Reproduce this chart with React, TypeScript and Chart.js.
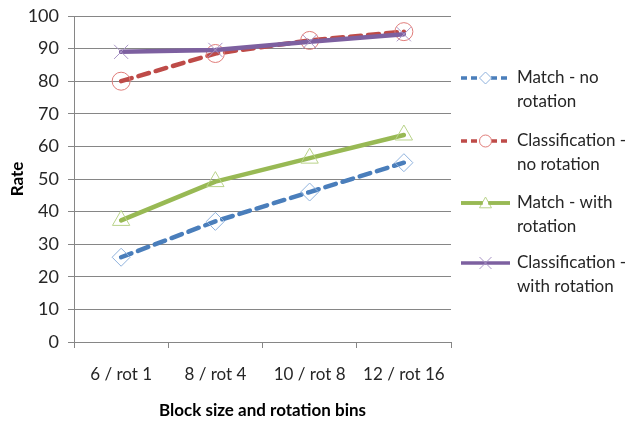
import React, { useEffect, useRef } from "react";
import { Chart, registerables } from "chart.js";

Chart.register(...registerables);

const categories = ["6 / rot 1", "8 / rot 4", "10 / rot 8", "12 / rot 16"];
const matchNoRot = [26, 37, 46, 55];
const classNoRot = [80, 88.5, 92.5, 95.2];
const matchWithRot = [37.3, 49.2, 56.4, 63.5];
const classWithRot = [89, 89.6, 92.1, 94.4];
const legendLabels = [
  ["Match - no", "rotation"],
  ["Classification -", "no rotation"],
  ["Match - with", "rotation"],
  ["Classification -", "with rotation"],
];
const yTitle = "Rate";
const xTitle = "Block size and rotation bins";

const FONT = "Lato, 'Open Sans', sans-serif";

const series = [
  { data: matchNoRot, line: "#4a7ebb", marker: "#8fb2dd", style: "rectRot", radius: 9, dash: [11, 7] },
  { data: classNoRot, line: "#be4b48", marker: "#e07c79", style: "circle", radius: 9, dash: [11, 7] },
  { data: matchWithRot, line: "#98b954", marker: "#b9d38a", style: "triangle", radius: 10, dash: [] },
  { data: classWithRot, line: "#7d60a0", marker: "#a995c6", style: "crossRot", radius: 10, dash: [] },
];

const legendPlugin = {
  id: "customLegend",
  afterDraw(chart: any) {
    const ctx = chart.ctx;
    const x0 = 461;
    const x1 = 510;
    const starts = [78, 141, 203, 263];
    ctx.save();
    series.forEach((s, i) => {
      const y = starts[i];
      ctx.beginPath();
      ctx.setLineDash(s.dash.length ? [6, 4] : []);
      ctx.lineWidth = 3.5;
      ctx.lineCap = "butt";
      ctx.strokeStyle = s.line;
      ctx.moveTo(x0, y);
      ctx.lineTo(x1, y);
      ctx.stroke();
      ctx.setLineDash([]);
      ctx.fillStyle = "#ffffff";
      ctx.strokeStyle = s.marker;
      ctx.lineWidth = 1;
      const cx = (x0 + x1) / 2;
      const r = 6;
      ctx.beginPath();
      if (s.style === "rectRot") {
        ctx.moveTo(cx, y - r);
        ctx.lineTo(cx + r, y);
        ctx.lineTo(cx, y + r);
        ctx.lineTo(cx - r, y);
        ctx.closePath();
        ctx.fill();
        ctx.stroke();
      } else if (s.style === "circle") {
        ctx.arc(cx, y, r, 0, Math.PI * 2);
        ctx.fill();
        ctx.stroke();
      } else if (s.style === "triangle") {
        ctx.moveTo(cx, y - r);
        ctx.lineTo(cx + r, y + r * 0.8);
        ctx.lineTo(cx - r, y + r * 0.8);
        ctx.closePath();
        ctx.fill();
        ctx.stroke();
        ctx.beginPath();
        ctx.strokeStyle = s.line;
        ctx.lineWidth = 3.5;
        ctx.moveTo(x0, y);
        ctx.lineTo(cx - r * 0.45, y);
        ctx.moveTo(cx + r * 0.45, y);
        ctx.lineTo(x1, y);
        ctx.stroke();
      } else {
        ctx.moveTo(cx - r, y - r);
        ctx.lineTo(cx + r, y + r);
        ctx.moveTo(cx + r, y - r);
        ctx.lineTo(cx - r, y + r);
        ctx.stroke();
      }
      ctx.fillStyle = "#262626";
      ctx.font = `17px ${FONT}`;
      ctx.textBaseline = "middle";
      ctx.textAlign = "left";
      ctx.fillText(legendLabels[i][0], 517, y);
      ctx.fillText(legendLabels[i][1], 517, y + 24);
    });
    ctx.restore();
  },
};

export default function App() {
  const ref = useRef<HTMLCanvasElement>(null);
  useEffect(() => {
    if (!ref.current) return;
    const datasets = series.map((s, i) => ({
      data: s.data,
      borderColor: s.line,
      borderWidth: 4.5,
      borderDash: s.dash,
      borderCapStyle: "round",
      borderJoinStyle: "round",
      tension: 0,
      pointStyle: s.style,
      pointRadius: s.radius,
      pointBorderColor: s.marker,
      pointBackgroundColor: "rgba(0,0,0,0)",
      pointBorderWidth: 1,
      order: 3 - i,
      fill: false,
    }));
    const chart = new Chart(ref.current, {
      type: "line",
      data: { labels: categories, datasets: datasets as any },
      plugins: [legendPlugin],
      options: {
        responsive: false,
        animation: false,
        layout: { padding: { top: 16, right: 175, left: 0, bottom: 0 } },
        plugins: { legend: { display: false }, tooltip: { enabled: false } },
        scales: {
          x: {
            offset: true,
            afterFit: (s: any) => {
              s.height = 79;
              s.paddingLeft = 0;
              s.paddingRight = 0;
            },
            grid: {
              offset: true,
              drawOnChartArea: false,
              drawTicks: true,
              tickLength: 6,
              color: "#868686",
            },
            border: { color: "#868686", width: 1 },
            ticks: {
              color: "#262626",
              font: { family: FONT, size: 17 },
              padding: 16,
            },
            title: {
              display: true,
              text: xTitle,
              color: "#000000",
              font: { family: FONT, size: 17, weight: "bold" },
              padding: { top: 11, bottom: 0 },
            },
          },
          y: {
            min: 0,
            max: 100,
            afterFit: (s: any) => {
              s.width = 74;
              s.paddingTop = 0;
              s.paddingBottom = 0;
            },
            grid: {
              color: "#868686",
              drawTicks: true,
              tickLength: 6,
            },
            border: { color: "#868686", width: 1 },
            ticks: {
              stepSize: 10,
              color: "#262626",
              font: { family: FONT, size: 18 },
              padding: 9,
            },
            title: {
              display: true,
              text: yTitle,
              color: "#000000",
              font: { family: FONT, size: 17, weight: "bold" },
              padding: { top: 7, bottom: 2 },
            },
          },
        },
      },
    });
    return () => chart.destroy();
  }, []);
  return (
    <div style={{ position: "absolute", left: 0, top: 0, width: 626, height: 421, background: "#fff" }}>
      <canvas ref={ref} width={626} height={421} />
    </div>
  );
}
